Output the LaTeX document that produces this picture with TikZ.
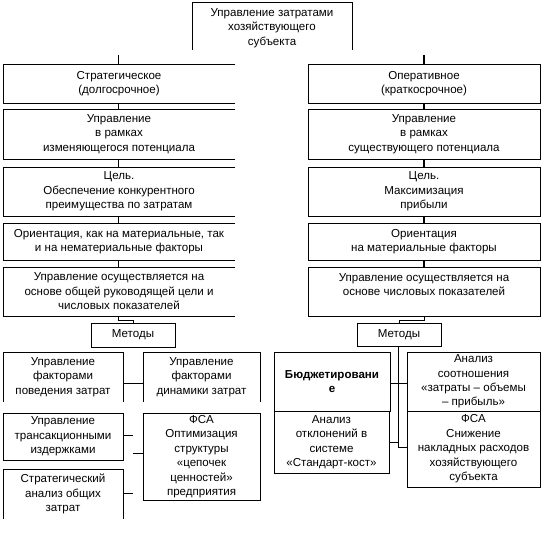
\documentclass[tikz,border=0pt]{standalone}
\usepackage{fontspec}
\setmainfont{Liberation Sans}
\begin{document}
\begin{tikzpicture}[x=1bp,y=-1bp,
  bx/.style={inner sep=0pt, outer sep=0pt, anchor=north west, align=center,
    font=\fontsize{11.6}{14.5}\selectfont},
  ln/.style={line width=0.9bp, black},
  tk/.style={line width=1.6bp, black}]
\useasboundingbox (0,0) rectangle (544,542);

% top
\node[bx, minimum width=160bp, minimum height=52bp] (top) at (192,2) {Управление затратами\\хозяйствующего\\субъекта};
\draw[ln] ([yshift=4bp]top.south west) -- (top.north west) -- (top.north east) -- ([yshift=4bp]top.south east);

% left column (open right side)
\node[bx, minimum width=232bp, minimum height=39bp] (A1) at (3,64) {Стратегическое\\(долгосрочное)};
\node[bx, minimum width=232bp, minimum height=50bp] (A2) at (3,109) {Управление\\в рамках\\изменяющегося потенциала};
\node[bx, minimum width=232bp, minimum height=49bp] (A3) at (3,167) {Цель.\\Обеспечение конкурентного\\преимущества по затратам};
\node[bx, minimum width=232bp, minimum height=37bp] (A4) at (3,223) {Ориентация, как на материальные, так\\и на нематериальные факторы};
\node[bx, minimum width=232bp, minimum height=49bp] (A5) at (3,267) {Управление осуществляется на\\основе общей руководящей цели и\\числовых показателей};
\foreach \n in {A1,A2,A3,A4,A5}
  \draw[ln] (\n.north east) -- (\n.north west) -- (\n.south west) -- (\n.south east);

% right column
\node[bx, minimum width=232bp, minimum height=39bp] (B1) at (308,64) {Оперативное\\(краткосрочное)};
\node[bx, minimum width=232bp, minimum height=50bp] (B2) at (308,109) {Управление\\в рамках\\существующего потенциала};
\node[bx, minimum width=232bp, minimum height=49bp] (B3) at (308,167) {Цель.\\Максимизация\\прибыли};
\node[bx, minimum width=232bp, minimum height=37bp] (B4) at (308,223) {Ориентация\\на материальные факторы};
\node[bx, minimum width=232bp, minimum height=49bp] (B5) at (308,267) {Управление осуществляется на\\основе числовых показателей\\\mbox{}};
\foreach \n in {B1,B2,B3,B4,B5}
  \draw[ln] (\n.north west) rectangle (\n.south east);

% ticks
\coordinate (tl) at (118,55);
\coordinate (tr) at (424,55);
\draw[ln] (tl) -- (tl |- A1.north);
\draw[ln] (A1.south -| tl) -- (A2.north -| tl);
\draw[ln] (A2.south -| tl) -- (A3.north -| tl);
\draw[ln] (A3.south -| tl) -- (A4.north -| tl);
\draw[ln] (A4.south -| tl) -- (A5.north -| tl);
\draw[tk] (tr) -- (tr |- B1.north);
\draw[tk] (B1.south -| tr) -- (B2.north -| tr);
\draw[tk] (B2.south -| tr) -- (B3.north -| tr);
\draw[tk] (B3.south -| tr) -- (B4.north -| tr);
\draw[tk] (B4.south -| tr) -- (B5.north -| tr);

% methods
\node[bx, minimum width=84bp, minimum height=24bp] (M1) at (91,323) {Методы};
\node[bx, minimum width=84bp, minimum height=23bp] (M2) at (357,323) {Методы};
\draw[ln] (M1.north west) rectangle (M1.south east);
\draw[ln] (M2.north west) rectangle (M2.south east);
\draw[ln] (A5.south -| tl) -- ++(0,4) -| (M1.north);
\draw[ln] (B5.south -| tr) -- ++(0,4) -| (M2.north);

% left bottom
\node[bx, minimum width=120bp, minimum height=50bp] (C1) at (3,352) {Управление\\факторами\\поведения затрат};
\node[bx, minimum width=117bp, minimum height=50bp] (C2) at (143,352) {Управление\\факторами\\динамики затрат};
\node[bx, minimum width=120bp, minimum height=47bp] (C3) at (3,413) {Управление\\трансакционными\\издержками};
\node[bx, minimum width=117bp, minimum height=87bp] (FL) at (143,413) {ФСА\\Оптимизация\\структуры\\«цепочек\\ценностей»\\предприятия};
\node[bx, minimum width=120bp, minimum height=50bp] (C4) at (3,469) {Стратегический\\анализ общих\\затрат};
\foreach \n in {C1,C2,C4}
  \draw[ln] (\n.south west) -- (\n.north west) -- (\n.north east) -- (\n.south east);
\draw[ln] (C3.north west) rectangle (C3.south east);
\draw[ln] (FL.north west) rectangle (FL.south east);
\draw[ln] ([yshift=-6bp]C1.east) -- ([yshift=-6bp]C1.east -| C2.west);
\draw[ln] ([yshift=1.5bp]C3.east) -- ++(10,0);
\draw[ln] ([yshift=3.5bp]FL.west) -- ++(-10,0);
\draw[ln] ([yshift=1bp]C4.east) -- ++(10,0);

% right bottom
\node[bx, minimum width=116bp, minimum height=59bp, font=\fontsize{11.6}{14.5}\selectfont\bfseries] (D1) at (274,352) {Бюджетировани\\е};
\node[bx, minimum width=133bp, minimum height=59bp] (D2) at (407,352) {Анализ\\соотношения\\«затраты – объемы\\– прибыль»};
\node[bx, minimum width=115bp, minimum height=62bp] (D3) at (274,411) {Анализ\\отклонений в\\системе\\«Стандарт-кост»};
\node[bx, minimum width=133bp, minimum height=76bp] (D4) at (407,411) {ФСА\\Снижение\\накладных расходов\\хозяйствующего\\субъекта};
\foreach \n in {D1,D2,D3,D4}
  \draw[ln] (\n.north west) rectangle (\n.south east);
\coordinate (trk) at (398,447);
\draw[ln] (M2.south -| trk) -- (trk);
\draw[ln] ([yshift=-1.5bp]D1.east) -- ([yshift=-1.5bp]D1.east -| trk);
\draw[ln] ([yshift=-1.5bp]D2.west) -- ([yshift=-1.5bp]D2.west -| trk);
\draw[ln] (D3.east) -- (D3.east -| trk);
\draw[ln] ([yshift=2bp]D4.west) -- ([yshift=2bp]D4.west -| trk);
\end{tikzpicture}
\end{document}
